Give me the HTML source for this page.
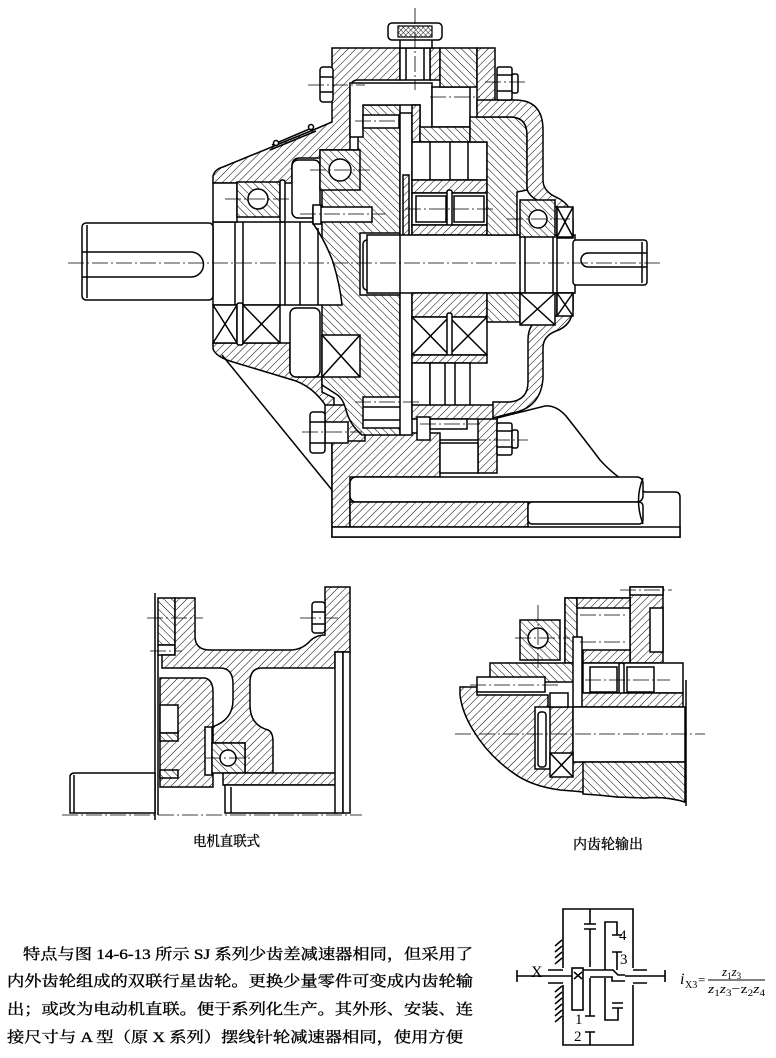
<!DOCTYPE html>
<html><head><meta charset="utf-8">
<style>
html,body{margin:0;padding:0;background:#fff;}
svg{display:block;}
.s{fill:none;stroke:#000;stroke-width:1.5;}
.w{fill:#fff;stroke:#000;stroke-width:1.5;}
.a{fill:url(#ha);stroke:#000;stroke-width:1.5;}
.b{fill:url(#hb);stroke:#000;stroke-width:1.5;}
.x{fill:url(#hx);stroke:#000;stroke-width:1.2;}
.c{fill:none;stroke:#000;stroke-width:0.8;stroke-dasharray:16 3 2 3;}
.k{fill:none;stroke:#000;stroke-width:1.6;}
.t{font-family:"Liberation Serif","Noto Serif CJK SC","Noto Sans CJK SC",serif;fill:#000;}
.p{stroke:#000;stroke-width:0.35;}
</style></head><body>
<svg width="776" height="1058" viewBox="0 0 776 1058" xmlns="http://www.w3.org/2000/svg">
<defs>
<pattern id="ha" width="5.5" height="5.5" patternUnits="userSpaceOnUse" patternTransform="rotate(45)"><rect width="5.5" height="5.5" fill="#fff"/><line x1="0" y1="0" x2="0" y2="5.5" stroke="#000" stroke-width="1"/></pattern>
<pattern id="hb" width="5.5" height="5.5" patternUnits="userSpaceOnUse" patternTransform="rotate(-45)"><rect width="5.5" height="5.5" fill="#fff"/><line x1="0" y1="0" x2="0" y2="5.5" stroke="#000" stroke-width="1"/></pattern>
<pattern id="hx" width="3.5" height="3.5" patternUnits="userSpaceOnUse" patternTransform="rotate(45)"><rect width="3.5" height="3.5" fill="#fff"/><line x1="0" y1="0" x2="0" y2="3.5" stroke="#000" stroke-width="0.9"/><line x1="0" y1="0" x2="3.5" y2="0" stroke="#000" stroke-width="0.9"/></pattern>
</defs>

<!-- ================= MAIN DRAWING ================= -->
<!-- base -->
<path class="w" d="M332,440 H497 V418 L545,406 Q556,405 566,416 Q585,440 600,460 Q620,482 645,492 H675 Q680,492 680,497 V537 H332 Z"/>
<path class="a" d="M332,440 H363 V433 H440 V477 H350 V527 H332 Z"/>
<rect class="w" x="350" y="477" width="293" height="25" rx="6"/>
<rect class="a" x="350" y="502" width="178" height="25"/>
<rect class="w" x="528" y="502" width="115" height="22" rx="4"/>
<rect class="w" x="332" y="527" width="348" height="10"/>
<path class="s" d="M643,478 Q634,500 643,524"/>
<rect class="a" x="478" y="418" width="19" height="55"/>
<rect class="w" x="440" y="443" width="38" height="30"/>

<!-- lower-left housing -->
<path class="a" d="M213,343 H290 V370 Q290,377 298,377 H322 V392 L334,398 V406 H326 Q314,388 296,381 L233,362 Q216,357 213,349 Z"/>
<path class="s" d="M222,355 L332,490"/>
<rect class="a" x="325" y="405" width="40" height="36"/>

<!-- upper-left housing -->
<path class="a" d="M213,183 V176 Q215,169 223,167 L318,128 L332,122 V48 H400 V80 H358 Q350,80 350,90 V150 H320 V158 H300 Q292,158 292,166 V183 Z"/>

<!-- central column -->
<path class="b" d="M358,105 H400 V435 H362 Q350,425 346,410 Q343,398 336,394 L322,385 V150 H358 Z"/>
<!-- inverted L cavity -->
<path class="w" d="M350,83 H432 V132 H420 V105 H363 V137 H350 Z"/>
<rect class="w" x="363" y="115" width="36" height="13"/>
<line class="c" x1="355" y1="121" x2="420" y2="121"/>

<!-- input shaft inside -->
<path class="w" d="M213,222 H312 Q325,240 333,262 Q340,285 342,305 H213 Z"/>
<path class="s" d="M235,222 V305 M243,222 V305 M280,222 V305 M285,222 V305 M300,222 V305 M318,228 V305"/>

<!-- left bearings -->
<rect class="w" x="213" y="183" width="24" height="39"/>
<rect class="b" x="237" y="182" width="43" height="35"/>
<circle class="w" cx="258" cy="199" r="10"/>
<rect class="w" x="280" y="180" width="5" height="42" rx="2"/>
<rect class="w" x="292" y="160" width="28" height="58" rx="6"/>
<rect class="b" x="320" y="150" width="40" height="40"/>
<circle class="w" cx="340" cy="170" r="11"/>
<rect class="w" x="213" y="305" width="24" height="38"/>
<path class="s" d="M213,305 L237,343 M237,305 L213,343"/>
<rect class="w" x="237" y="303" width="6" height="42" rx="2"/>
<rect class="w" x="243" y="305" width="37" height="38"/>
<path class="s" d="M243,305 L280,343 M280,305 L243,343"/>
<rect class="w" x="290" y="308" width="30" height="69" rx="6"/>
<rect class="w" x="322" y="335" width="38" height="42"/>
<path class="s" d="M322,335 L360,377 M360,335 L322,377"/>

<!-- pins / hub -->
<rect class="w" x="313" y="207" width="59" height="15"/>
<rect class="w" x="313" y="205" width="8" height="19"/>
<rect class="w" x="360" y="233" width="40" height="62"/>
<rect class="w" x="363" y="240" width="10" height="50" rx="4"/>
<rect class="w" x="363" y="397" width="45" height="31"/>
<path class="s" d="M363,407 H408 M363,420 H408"/>

<!-- thin plate -->
<rect class="w" x="400" y="113" width="12" height="322"/>
<rect class="a" x="403" y="175" width="6" height="75"/>

<!-- right gear assembly -->
<rect class="w" x="432" y="87" width="38" height="40"/>
<rect class="a" x="412" y="105" width="8" height="37"/>
<rect class="b" x="420" y="127" width="50" height="15"/>
<rect class="w" x="412" y="142" width="75" height="38"/>
<path class="s" d="M430,142 V180 M450,142 V180 M468,142 V180"/>
<rect class="a" x="412" y="180" width="75" height="13"/>
<rect class="w" x="412" y="193" width="75" height="32"/>
<rect class="w" x="416" y="196" width="30" height="26"/>
<rect class="w" x="454" y="196" width="30" height="26"/>
<rect class="w" x="447" y="190" width="5" height="38" rx="2"/>
<rect class="a" x="412" y="225" width="75" height="10"/>
<rect class="w" x="367" y="235" width="208" height="58"/>
<path class="s" d="M400,235 V293 M520,235 V293 M525,235 V293 M553,235 V293 M557,235 V293"/>
<rect class="a" x="412" y="293" width="75" height="24"/>
<rect class="w" x="412" y="317" width="37" height="38"/>
<path class="s" d="M412,317 L449,355 M449,317 L412,355"/>
<rect class="w" x="449" y="317" width="38" height="38"/>
<path class="s" d="M449,317 L487,355 M487,317 L449,355"/>
<rect class="w" x="447" y="313" width="5" height="46" rx="2"/>
<rect class="a" x="412" y="355" width="75" height="8"/>
<rect class="w" x="412" y="363" width="18" height="44"/>
<rect class="w" x="430" y="363" width="40" height="44"/>
<path class="s" d="M445,363 V407 M455,363 V407"/>
<rect class="a" x="412" y="405" width="85" height="14"/>
<rect class="w" x="417" y="417" width="13" height="23"/>
<rect class="w" x="430" y="419" width="37" height="10"/>

<!-- top cover right -->
<rect class="a" x="430" y="48" width="10" height="32"/>
<rect class="b" x="440" y="48" width="37" height="39"/>
<rect class="a" x="477" y="48" width="18" height="62"/>
<rect class="w" x="400" y="48" width="30" height="32"/>
<path class="s" d="M406,48 V80 M424,48 V80"/>
<line class="c" x1="430" y1="97" x2="480" y2="97"/>

<!-- right housing -->
<path class="b" d="M470,117 H510 Q527,117 527,135 V190 L517,192 V235 H487 V142 H470 Z"/>
<path class="a" d="M477,100 H515 Q543,100 543,130 V180 Q543,192 558,198 Q573,206 573,222 V238 H557 V207 Q527,200 527,187 V135 Q527,117 510,117 H477 Z"/>
<rect class="b" x="520" y="200" width="35" height="37"/>
<circle class="w" cx="538" cy="219" r="9"/>
<rect class="w" x="557" y="207" width="16" height="30"/>
<path class="s" d="M557,207 L573,237 M573,207 L557,237"/>
<path class="a" d="M573,293 V310 Q571,326 556,331 Q543,336 543,348 V378 Q541,408 512,413 L493,418 V402 H510 Q528,400 528,382 V340 Q528,322 543,318 L557,316 V293 Z"/>
<rect class="b" x="487" y="293" width="33" height="29"/>
<rect class="w" x="520" y="293" width="35" height="32"/>
<path class="s" d="M520,293 L555,325 M555,293 L520,325"/>
<rect class="w" x="557" y="293" width="16" height="23"/>
<path class="s" d="M557,293 L573,316 M573,293 L557,316"/>

<!-- external shafts -->
<rect class="w" x="82" y="223" width="131" height="77" rx="4"/>
<path class="s" d="M87,225 V298 M82,252 H191 A12.5,12.5 0 0 1 191,277 H82"/>
<rect class="w" x="573" y="240" width="74" height="45" rx="3"/>
<path class="s" d="M642,242 V283 M647,253 H588 A7,7 0 0 0 588,267 H647"/>

<!-- knob -->
<rect class="w" x="400" y="38" width="32" height="10"/>
<rect class="w" x="388" y="23" width="54" height="17" rx="4"/>
<rect class="x" x="398" y="26" width="34" height="11"/>

<!-- bolts -->
<rect class="w" x="320" y="67" width="13" height="35" rx="3"/>
<path class="s" d="M320,77 H333 M320,92 H333"/>
<rect class="w" x="497" y="67" width="15" height="33" rx="2"/>
<rect class="w" x="512" y="74" width="6" height="19" rx="2"/>
<path class="s" d="M497,75 H512 M497,91 H512"/>
<rect class="w" x="325" y="422" width="23" height="21"/>
<rect class="w" x="310" y="412" width="15" height="41" rx="3"/>
<path class="s" d="M310,422 H325 M310,443 H325"/>
<rect class="w" x="497" y="423" width="15" height="32" rx="2"/>
<rect class="w" x="512" y="430" width="6" height="18" rx="2"/>
<path class="s" d="M497,431 H512 M497,447 H512"/>

<!-- nameplate -->
<path class="s" d="M270,150 L316,131 M272,145 L314,127"/>
<circle class="w" cx="276" cy="143" r="2.5"/>
<circle class="w" cx="311" cy="127" r="2.5"/>

<!-- centerlines -->
<line class="c" x1="68" y1="263" x2="660" y2="263"/>
<line class="c" x1="415" y1="8" x2="415" y2="90"/>
<line class="c" x1="308" y1="85" x2="365" y2="85"/>
<line class="c" x1="485" y1="82" x2="528" y2="82"/>
<line class="c" x1="302" y1="432" x2="362" y2="432"/>
<line class="c" x1="470" y1="440" x2="528" y2="440"/>
<line class="c" x1="225" y1="199" x2="292" y2="199"/>
<line class="c" x1="310" y1="170" x2="370" y2="170"/>
<line class="c" x1="300" y1="214" x2="385" y2="214"/>
<line class="c" x1="405" y1="209" x2="495" y2="209"/>
<line class="c" x1="507" y1="219" x2="570" y2="219"/>
<line class="c" x1="355" y1="402" x2="420" y2="402"/>
<line class="c" x1="420" y1="424" x2="480" y2="424"/>

<!-- ================= SUB DRAWING 1 ================= -->
<line class="s" x1="155" y1="593" x2="155" y2="820"/>
<line class="s" x1="158" y1="655" x2="158" y2="815"/>
<rect class="b" x="158" y="598" width="17" height="47"/>
<rect class="w" x="158" y="645" width="17" height="10"/>
<path class="a" d="M175,598 H195 V636 Q195,650 210,650 H290 Q302,650 310,641 Q316,635 325,635 V587 H350 V652 H335 V668 H262 Q250,668 250,682 V705 Q250,725 268,730 Q273,732 273,742 V773 H245 V743 H212 V727 Q233,720 233,700 V684 Q233,668 220,668 H162 V655 H175 Z"/>
<path class="a" d="M160,678 H205 Q213,680 213,692 V787 H160 Z"/>
<rect class="w" x="160" y="705" width="18" height="28"/>
<rect class="b" x="160" y="733" width="18" height="8"/>
<rect class="b" x="160" y="770" width="18" height="8"/>
<rect class="w" x="205" y="727" width="7" height="48"/>
<rect class="b" x="212" y="743" width="33" height="30"/>
<circle class="w" cx="228" cy="758" r="8"/>
<rect class="a" x="223" y="773" width="114" height="12"/>
<rect class="w" x="225" y="785" width="112" height="28"/>
<line class="s" x1="231" y1="787" x2="231" y2="813"/>
<rect class="w" x="335" y="652" width="8" height="161"/>
<rect class="w" x="343" y="652" width="7" height="161"/>
<rect class="w" x="312" y="602" width="13" height="31" rx="3"/>
<path class="s" d="M312,612 H325 M312,624 H325"/>
<path class="w" d="M70,813 V777 Q70,773 75,773 H155 V813 Z"/>
<line class="s" x1="74" y1="775" x2="74" y2="813"/>
<line class="c" x1="62" y1="815" x2="362" y2="815"/>
<line class="c" x1="147" y1="618" x2="203" y2="618"/>
<line class="c" x1="300" y1="618" x2="338" y2="618"/>
<line class="c" x1="150" y1="651" x2="182" y2="651"/>
<line class="c" x1="205" y1="758" x2="252" y2="758"/>
<text class="t p" x="193" y="846" font-size="14" textLength="67" lengthAdjust="spacingAndGlyphs">电机直联式</text>

<!-- ================= SUB DRAWING 2 ================= -->
<rect class="a" x="630" y="587" width="33" height="76"/>
<rect class="w" x="630" y="587" width="33" height="8"/>
<rect class="w" x="650" y="608" width="13" height="44"/>
<rect class="w" x="565" y="598" width="65" height="65"/>
<rect class="b" x="565" y="598" width="12" height="65"/>
<rect class="a" x="577" y="598" width="53" height="10"/>
<rect class="a" x="583" y="650" width="47" height="13"/>
<rect class="b" x="520" y="620" width="40" height="40"/>
<circle class="w" cx="538" cy="638" r="10"/>
<path class="a" d="M460,687 H477 V695 H548 V707 H573 V762 H685 V802 Q665,796 645,798 L617,797 Q590,792 560,790 Q530,786 512,772 Q488,755 473,730 Q462,712 460,695 Z"/>
<rect class="b" x="490" y="663" width="87" height="19"/>
<rect class="w" x="477" y="677" width="68" height="15"/>
<rect class="w" x="583" y="663" width="100" height="30"/>
<rect class="w" x="590" y="667" width="27" height="25"/>
<rect class="w" x="627" y="667" width="27" height="25"/>
<rect class="w" x="619" y="663" width="5" height="32" rx="2"/>
<rect class="a" x="577" y="693" width="106" height="14"/>
<rect class="w" x="573" y="637" width="9" height="70"/>
<rect class="w" x="550" y="693" width="18" height="14"/>
<rect class="w" x="573" y="707" width="112" height="55"/>
<rect class="w" x="535" y="707" width="15" height="62"/>
<rect class="w" x="538" y="712" width="8" height="55" rx="3"/>
<rect class="w" x="550" y="753" width="23" height="24"/>
<path class="s" d="M550,753 L573,777 M573,753 L550,777"/>
<path class="b" d="M583,762 H685 V802 Q665,796 645,798 L617,797 Q600,795 583,794 Z"/>
<line class="s" x1="686" y1="680" x2="686" y2="806"/>
<line class="c" x1="455" y1="734" x2="705" y2="734"/>
<line class="c" x1="538" y1="605" x2="538" y2="668"/>
<line class="c" x1="515" y1="638" x2="570" y2="638"/>
<line class="c" x1="470" y1="685" x2="560" y2="685"/>
<line class="c" x1="580" y1="615" x2="625" y2="615"/>
<line class="c" x1="580" y1="642" x2="625" y2="642"/>
<line class="c" x1="585" y1="680" x2="670" y2="680"/>
<line class="c" x1="620" y1="590" x2="672" y2="590"/>
<text class="t p" x="573" y="849" font-size="14" textLength="70" lengthAdjust="spacingAndGlyphs">内齿轮输出</text>

<!-- ================= KINEMATIC DIAGRAM ================= -->
<path class="k" d="M563,968 V909 H633 V968 M563,985 V1045 H633 V985"/>
<path class="k" d="M548,970 H563 M548,983 H563 M633,970 H647 M633,983 H647"/>
<path class="s" d="M555,946 L562,940 M555,952 L562,946 M555,958 L562,952 M555,964 L562,958 M555,992 L562,986 M555,998 L562,992 M555,1004 L562,998 M555,1010 L562,1004 M555,1016 L562,1010 M555,1022 L562,1016"/>
<path class="k" d="M517,976 H572 M517,970 V982"/>
<rect class="k" x="572" y="968" width="11" height="42"/>
<path class="s" d="M574,972 L582,979 M582,972 L574,979"/>
<path class="k" d="M583,970 H613 L618,975 H625 M625,976 H665 M665,970 V982"/>
<path class="k" d="M590,977 H612 V981 H625"/>
<path class="k" d="M590,909 V924 M584,924 H596 M584,929 H596 M590,929 V967"/>
<path class="k" d="M605,970 V922 H617 V935 M612,935 H622"/>
<path class="k" d="M617,970 V952 M612,952 H622"/>
<path class="k" d="M590,978 V1016 M585,1016 H595"/>
<path class="k" d="M605,978 V1020 H618 V1008 M612,1008 H623 M612,1003 H623"/>
<path class="k" d="M590,1045 V1032 M585,1032 H595"/>
<text class="t" x="531" y="977" font-size="16">X</text>
<text class="t" x="619" y="940" font-size="15">4</text>
<text class="t" x="620" y="964" font-size="15">3</text>
<text class="t" x="575" y="1024" font-size="15">1</text>
<text class="t" x="574" y="1041" font-size="15">2</text>
<text class="t" x="680" y="984" font-size="16" font-style="italic">i</text>
<text class="t" x="685" y="988" font-size="10">X3</text>
<text class="t" x="698" y="984" font-size="13">=</text>
<text class="t" x="722" y="976" font-size="13" font-style="italic">z<tspan font-size="9" dy="3" font-style="normal">1</tspan><tspan dy="-3">z</tspan><tspan font-size="9" dy="3" font-style="normal">3</tspan></text>
<line x1="708" y1="980" x2="765" y2="980" stroke="#000" stroke-width="1"/>
<text class="t" x="708" y="993" font-size="13" font-style="italic" textLength="57" lengthAdjust="spacingAndGlyphs">z<tspan font-size="9" dy="3" font-style="normal">1</tspan><tspan dy="-3">z</tspan><tspan font-size="9" dy="3" font-style="normal">3</tspan><tspan dy="-3" font-style="normal">−z</tspan><tspan font-size="9" dy="3" font-style="normal">2</tspan><tspan dy="-3">z</tspan><tspan font-size="9" dy="3" font-style="normal">4</tspan></text>

<!-- ================= PARAGRAPH ================= -->
<text class="t p" x="23" y="959" font-size="15" textLength="450" lengthAdjust="spacingAndGlyphs">特点与图 14-6-13 所示 SJ 系列少齿差减速器相同，但采用了</text>
<text class="t p" x="7" y="986" font-size="15" textLength="466" lengthAdjust="spacingAndGlyphs">内外齿轮组成的双联行星齿轮。更换少量零件可变成内齿轮输</text>
<text class="t p" x="7" y="1014" font-size="15" textLength="466" lengthAdjust="spacingAndGlyphs">出；或改为电动机直联。便于系列化生产。其外形、安装、连</text>
<text class="t p" x="7" y="1042" font-size="15" textLength="456" lengthAdjust="spacingAndGlyphs">接尺寸与 A 型（原 X 系列）摆线针轮减速器相同，使用方便</text>
</svg>
</body></html>
